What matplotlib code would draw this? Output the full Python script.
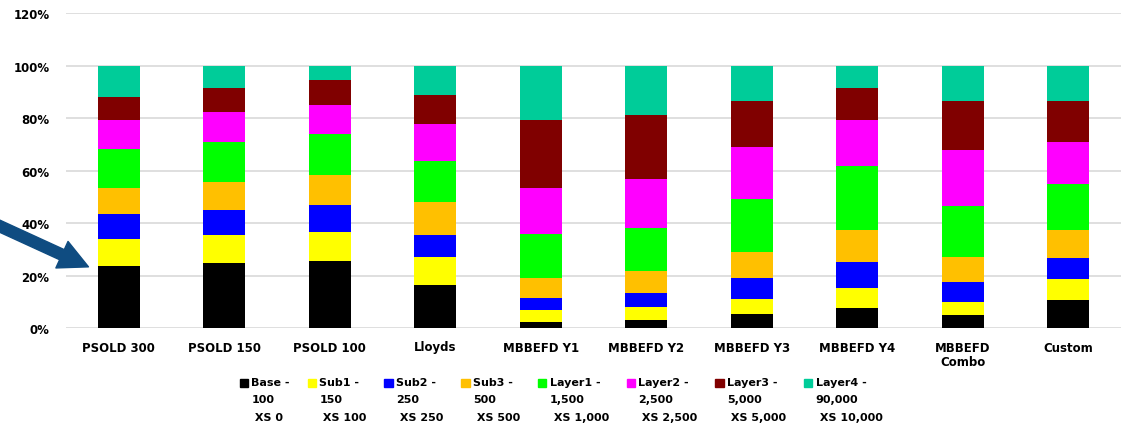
import numpy as np
import matplotlib
matplotlib.use('Agg')
import matplotlib.pyplot as plt
from matplotlib.patches import Rectangle, FancyArrowPatch
from matplotlib.legend_handler import HandlerPatch

# models along the x axis
categories = ['PSOLD 300', 'PSOLD 150', 'PSOLD 100', 'Lloyds', 'MBBEFD Y1',
              'MBBEFD Y2', 'MBBEFD Y3', 'MBBEFD Y4', 'MBBEFD\nCombo', 'Custom']

# share of loss per layer (percent)
base   = [23.5, 24.6, 25.4, 16.5,  2.4,  3.2,  5.4,  7.7,  4.8, 10.5]
sub1   = [10.4, 10.8, 11.2, 10.7,  4.3,  4.8,  5.7,  7.4,  5.1,  8.0]
sub2   = [ 9.4,  9.7, 10.4,  8.4,  4.8,  5.5,  7.9, 10.1,  7.8,  8.3]
sub3   = [ 9.9, 10.6, 11.2, 12.4,  7.7,  8.4, 10.1, 12.1,  9.5, 10.5]
layer1 = [14.9, 15.3, 15.6, 15.5, 16.6, 16.3, 20.1, 24.3, 19.1, 17.5]
layer2 = [11.0, 11.2, 11.1, 14.1, 17.4, 18.5, 19.7, 17.8, 21.4, 16.1]
layer3 = [ 9.0,  9.3,  9.4, 11.0, 25.9, 24.4, 17.7, 12.1, 18.9, 15.7]
layer4 = [11.9,  8.5,  5.7, 11.4, 20.9, 18.9, 13.4,  8.5, 13.4, 13.4]

series = [base, sub1, sub2, sub3, layer1, layer2, layer3, layer4]
labels = ['Base -\n100\n XS 0', 'Sub1 -\n150\n XS 100', 'Sub2 -\n250\n XS 250',
          'Sub3 -\n500\n XS 500', 'Layer1 -\n1,500\n XS 1,000',
          'Layer2 -\n2,500\n XS 2,500', 'Layer3 -\n5,000\n XS 5,000',
          'Layer4 -\n90,000\n XS 10,000']
colors = ['#000000', '#FFFF00', '#0000FF', '#FFC000', '#00FF00', '#FF00FF',
          '#800000', '#00CC99']

plt.rcParams['font.family'] = 'DejaVu Sans'
plt.rcParams['font.weight'] = 'bold'

fig = plt.figure(figsize=(11.22, 4.31), dpi=100)
ax = fig.add_axes([66 / 1122, 1 - 329 / 431, 1055 / 1122, 315 / 431])

x = np.arange(len(categories))
bottom = np.zeros(len(categories))
for vals, col in zip(series, colors):
    v = np.array(vals) / 100.0
    ax.bar(x, v, 0.4, bottom=bottom, color=col, linewidth=0)
    bottom += v

ax.set_xlim(-0.5, len(categories) - 0.5)
ax.set_ylim(0, 1.2)
ax.set_yticks(np.arange(0, 1.21, 0.2))
ax.set_yticklabels(['%d%%' % round(t * 100) for t in np.arange(0, 1.21, 0.2)],
                   fontsize=8.5, fontweight='bold')
ax.set_xticks(x)
ax.set_xticklabels(categories, fontsize=8.5, fontweight='bold')
ax.tick_params(axis='both', length=0)
ax.tick_params(axis='y', pad=12)
ax.tick_params(axis='x', pad=9)
ax.grid(axis='y', color='#D9D9D9', linewidth=1.2)
ax.set_axisbelow(True)
for s in ax.spines.values():
    s.set_visible(False)


# legend squares sit next to the first line of each label
def top_square(legend, orig_handle, xdescent, ydescent, width, height, fontsize):
    return Rectangle((-xdescent, -ydescent + 1.45 * fontsize), width, height)


handles = [Rectangle((0, 0), 1, 1, color=c) for c in colors]
leg = fig.legend(handles, labels, loc='upper center', bbox_to_anchor=(0.5, 0.147),
                 ncol=8, frameon=False, fontsize=8, handlelength=0.75,
                 handleheight=0.75, handletextpad=0.3, columnspacing=1.6,
                 handler_map={Rectangle: HandlerPatch(patch_func=top_square)})
for t in leg.get_texts():
    t.set_linespacing(1.95)
    t.set_fontweight('bold')

# arrow pointing at the first bar
arrow = FancyArrowPatch((-5, 206), (91, 162), transform=None,
                        arrowstyle='simple,head_width=21,head_length=21,tail_width=8',
                        color='#0F4C81', mutation_scale=1)
fig.add_artist(arrow)

fig.savefig('out.png', dpi=100)
